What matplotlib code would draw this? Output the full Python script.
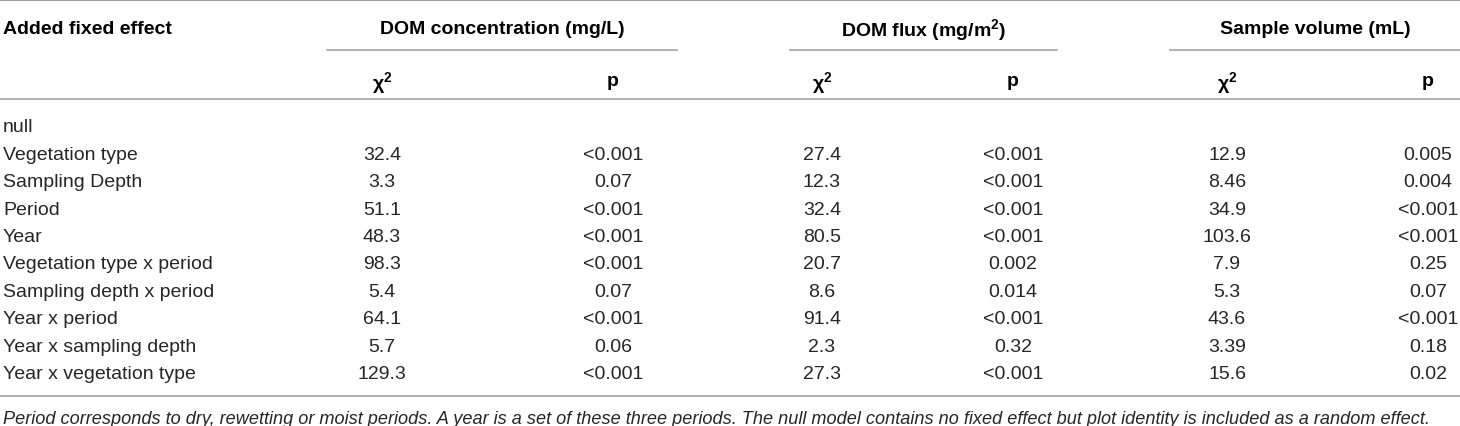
import matplotlib
matplotlib.use('Agg')
import matplotlib.pyplot as plt

plt.rcParams['font.family'] = ['Liberation Sans', 'DejaVu Sans']
plt.rcParams['mathtext.fontset'] = 'custom'
plt.rcParams['mathtext.rm'] = 'Liberation Sans'
plt.rcParams['mathtext.it'] = 'Liberation Sans:italic'
plt.rcParams['mathtext.bf'] = 'Liberation Sans:bold'

# table contents
groups = ["DOM concentration (mg/L)", r"DOM flux (mg/m$^{\mathbf{2}}$)", "Sample volume (mL)"]
sub_headers = [r"$\mathbf{\chi}^{\mathbf{2}}$", "p"]
labels = ["null", "Vegetation type", "Sampling Depth", "Period", "Year",
          "Vegetation type x period", "Sampling depth x period", "Year x period",
          "Year x sampling depth", "Year x vegetation type"]
conc_chi = ["", "32.4", "3.3", "51.1", "48.3", "98.3", "5.4", "64.1", "5.7", "129.3"]
conc_p = ["", "<0.001", "0.07", "<0.001", "<0.001", "<0.001", "0.07", "<0.001", "0.06", "<0.001"]
flux_chi = ["", "27.4", "12.3", "32.4", "80.5", "20.7", "8.6", "91.4", "2.3", "27.3"]
flux_p = ["", "<0.001", "<0.001", "<0.001", "<0.001", "0.002", "0.014", "<0.001", "0.32", "<0.001"]
vol_chi = ["", "12.9", "8.46", "34.9", "103.6", "7.9", "5.3", "43.6", "3.39", "15.6"]
vol_p = ["", "0.005", "0.004", "<0.001", "<0.001", "0.25", "0.07", "<0.001", "0.18", "0.02"]
footnote = ("Period corresponds to dry, rewetting or moist periods. A year is a set of these three periods. "
            "The null model contains no fixed effect but plot identity is included as a random effect.")

W, H = 1460, 427
fig = plt.figure(figsize=(W / 100, H / 100), dpi=100)
ax = fig.add_axes([0, 0, 1, 1])
ax.set_xlim(0, W)
ax.set_ylim(H, 0)
ax.axis('off')

fs = 14
body = '#262626'
rule = '#a3a3a3'

# layout (pixels)
col_x = [382, 613, 822, 1013, 1227, 1428]
group_span = [(327, 677), (790, 1057), (1170, 1460)]
row0, row_step = 126, 27.4

# rules
ax.plot([0, W], [1, 1], color=rule, lw=1.6)
for x0, x1 in group_span:
    ax.plot([x0, x1], [51, 51], color=rule, lw=1.2)
ax.plot([0, W], [100, 100], color=rule, lw=1.2)
ax.plot([0, W], [397, 397], color=rule, lw=1.2)

# header
ax.text(3, 27, "Added fixed effect", fontsize=fs, fontweight='bold',
        va='center_baseline', ha='left', color='black')
for g, (x0, x1) in zip(groups, group_span):
    ax.text((x0 + x1) / 2, 27, g, fontsize=fs, fontweight='bold',
            va='center_baseline', ha='center', color='black')
for i, x in enumerate(col_x):
    ax.text(x, 80, sub_headers[i % 2], fontsize=fs, fontweight='bold',
            va='center_baseline', ha='center', color='black')

# body
cols = [conc_chi, conc_p, flux_chi, flux_p, vol_chi, vol_p]
for r, lab in enumerate(labels):
    y = row0 + r * row_step
    ax.text(3, y, lab, fontsize=fs, va='center_baseline', ha='left', color=body)
    for x, col in zip(col_x, cols):
        ax.text(x, y, col[r], fontsize=fs, va='center_baseline', ha='center', color=body)

ax.text(3, 418, footnote, fontsize=13.1, style='italic',
        va='center_baseline', ha='left', color=body)

fig.savefig('out.png', dpi=100, facecolor='white')
